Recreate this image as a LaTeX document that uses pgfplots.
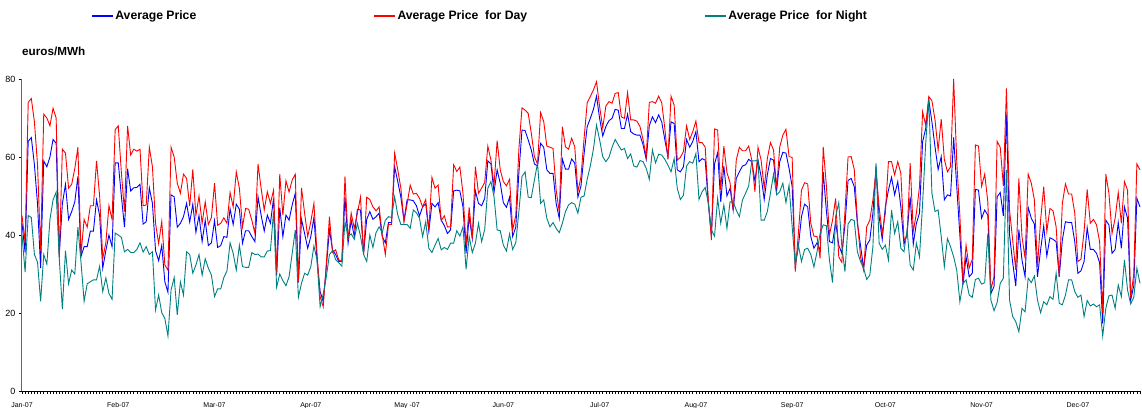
\documentclass[border=0pt]{standalone}
\usepackage{fontspec}
\setmainfont{Liberation Sans}
\usepackage{pgfplots}
\usepackage{pgfplotstable}
\pgfplotsset{compat=1.18}
\definecolor{cblue}{RGB}{0,0,255}
\definecolor{cred}{RGB}{255,0,0}
\definecolor{cteal}{RGB}{0,128,128}
\pgfplotstableread{
d r b t
0 45 43 40
1 38 35.5 30.5
2 74 64 45
3 75 65 44.5
4 69 58 35
5 58 48 33
6 36 31.5 23
7 71 59 35
8 70 57.5 32.5
9 68 60 44
10 72.5 64.5 49
11 70 63.5 51
12 34 35 34
13 62 48 21
14 61 53 36
15 52 44 27.5
16 53 46 31
17 57 48.5 30
18 62.5 55 42
19 35 34.5 33
20 44 37 23
21 42 37 27.5
22 47.5 41 28
23 47.5 41 28.5
24 59 49 28.5
25 50 45 32
26 34 31.5 25.5
27 38 36 29
28 47.5 40 25
29 44 37 23.5
30 67 58.5 40.5
31 68 58.5 40
32 56 50 39.4
33 46 42 35.7
34 68 57 36.3
35 60.5 51.3 35.5
36 62 52.1 35.5
37 61.5 52.2 36.3
38 62 53 38
39 47.5 42.8 35.6
40 47.7 43.4 37
41 62.5 52.1 35
42 57.5 48.1 35.7
43 43 36 20.8
44 37.8 33.4 24.6
45 43.5 37.3 20.1
46 32.3 28 18.6
47 31 25.3 14.1
48 62.5 50.3 25.9
49 60 49.8 29.1
50 53.3 42 19.5
51 50.7 43 28
52 55.6 44.7 24.6
53 54.5 48.1 35.7
54 47.4 43.3 35
55 56.8 47.9 30.2
56 45 40.7 32.3
57 50 45 35
58 43 38.3 29.7
59 48.5 43.8 33.9
60 42.7 37.3 31.5
61 44.5 38 29.7
62 53.3 43.7 24.2
63 42.5 36.8 26.2
64 43 37.3 26.2
65 44.4 39.6 29.1
66 43 39.4 30.8
67 50.9 46.7 38
68 47.2 42.7 35.3
69 56.2 47.9 31
70 52 46.6 37.4
71 42.1 37.9 31.9
72 46.8 41.1 31.7
73 46.6 41.1 31.7
74 43.8 39.6 35.5
75 40.4 38.3 35
76 58.2 49.8 35.1
77 52 45.1 34.4
78 46.4 41 34.4
79 51.1 45.1 35.9
80 48.1 43 36
81 51.5 49.4 46
82 30.2 29.7 26.6
83 55.6 47 30
84 45.1 39.6 28.3
85 53.9 45.1 27
86 51 43.8 29.3
87 54.1 47.7 35.3
88 55.6 50.7 41.3
89 28 27.8 24
90 52.1 44 27.6
91 45.6 40.4 30.2
92 39.6 36.6 29.7
93 43.4 39.6 31.9
94 48.1 44.5 37.2
95 35.3 33.6 33.6
96 24.2 25.5 21.6
97 21.6 22.9 24.9
98 32.7 31.9 29.3
99 44.7 41.3 35
100 35.5 36.2 36
101 36.2 35 33.7
102 33.6 33.2 32.9
103 33.2 33.2 32
104 55 49.8 43.4
105 38.7 37.9 39.6
106 45.6 43.8 40.3
107 41.7 39.6 38.9
108 45.6 46.6 43
109 49.7 46.4 39.7
110 34.9 35.3 35
111 49.7 44 33.2
112 49.1 46 40
113 47.2 44 36.8
114 46.2 44.7 40.6
115 47.2 45.6 42.1
116 40 39.6 40.6
117 35 38 43.8
118 42.7 43.2 44.7
119 42.7 43.2 44.5
120 61 57.5 49.8
121 56.7 53.7 45.1
122 52 49.7 42.7
123 43.4 43.7 42.7
124 47.9 49 42.7
125 52.8 49 41.7
126 50.5 48.8 46.4
127 50.7 47.5 45.7
128 49.4 44.9 44.3
129 47.2 47.2 39.6
130 49.1 48 43.4
131 41.3 40.9 36.6
132 54.8 48.1 35.5
133 52 47.2 37.4
134 52.8 48.3 39.1
135 43.7 43.8 36.2
136 44.9 42.4 36.8
137 42.1 40.4 36.3
138 42.1 41.3 37.9
139 58 51.3 37.9
140 56.3 51.5 41.1
141 57.4 51.3 39.7
142 50.7 47.2 42.1
143 37.4 35.3 31.2
144 47.1 44.7 39.6
145 39.1 39.1 35.5
146 57.5 51.3 37.9
147 50.7 48.1 43
148 52 47.5 38.3
149 53.5 49.4 41.4
150 62.8 59 52
151 59.2 58.2 53.7
152 52.8 51 49.8
153 64.2 56.7 41.3
154 56.7 53.3 41.1
155 53.7 48.3 37.4
156 52.6 47.1 35.9
157 54.3 49.7 40.3
158 41.3 39.6 36.3
159 45 42 38
160 62 56 46
161 72.6 66.9 55
162 72 66.8 56.2
163 71.2 64.4 49.7
164 66.1 61.8 49.6
165 60.1 58.2 54.1
166 58.2 57.7 58.4
167 71.4 63.5 48.1
168 69.1 62.5 49
169 62.8 56.7 44.3
170 62.5 55.8 42.1
171 62.2 55.8 43.2
172 51.5 48.1 41.7
173 46 44.3 40.6
174 67.8 59.5 43
175 62.6 56.9 46
176 62 56.9 47.7
177 64.8 59.5 48.3
178 62.6 58.4 47.9
179 51.1 49.7 45.6
180 55 52.6 49.7
181 64.8 60.8 50
182 73.9 67.8 54.3
183 75.5 69.9 57.7
184 77.2 72.2 62
185 79.3 75.6 68.2
186 72.9 69.9 64.4
187 67.5 65.4 60.1
188 73 67.8 58.8
189 74.2 69.3 59.9
190 73.8 69.9 62.5
191 76.3 72.2 64.5
192 76.5 72 63.1
193 70.3 67.3 61.8
194 69.9 67.3 62.2
195 76.5 71 59.6
196 69.5 66.5 60.8
197 69.5 65.9 57.7
198 69.2 65.6 57.4
199 67.8 65.6 59.1
200 64.4 63.1 58.8
201 60.1 59.4 57.1
202 74 68 54.3
203 74.2 70.3 61.8
204 73.8 68.8 58.5
205 75.6 70.8 60.7
206 73.9 69 60.5
207 67.3 64.4 59.4
208 59.4 60.1 57.9
209 75.6 69 56.2
210 73.3 68.6 59.6
211 59.2 56.7 52
212 59.9 56.2 49.1
213 61.4 57.5 50.2
214 68 64.5 57.7
215 64.5 62.5 58.8
216 66.5 64 58.4
217 69.2 66.5 60.9
218 63.7 58.8 49.1
219 63.7 59.6 51.1
220 62.5 59.2 52.2
221 49 48.1 48.1
222 38.7 40 41.3
223 67.2 58.2 39.7
224 66.9 61.1 49.4
225 51.5 48.5 43
226 62.8 57.7 47.7
227 56 50 41.7
228 53.4 52 48.5
229 46.4 46.4 48.5
230 59.2 54.5 46.4
231 62.5 56.2 44.7
232 61.6 57.7 49
233 61.6 58 50.7
234 62.8 59.4 52.6
235 59.2 58.8 59
236 51.1 53.9 59
237 62.5 59.2 59.2
238 59.2 55 43.8
239 52 49.1 43.8
240 59.6 55.4 46
241 63.7 59.6 50.7
242 61.8 59.2 55.6
243 52 51.5 50.3
244 62.6 58.8 51.1
245 65.6 61.2 53.3
246 67.1 61 48.3
247 60.1 57.1 52.8
248 59.9 52.4 42.1
249 30.6 32.3 32.3
250 40.4 37 37.4
251 51.5 44.7 33.2
252 53.4 47.9 36.3
253 53.1 47.2 36.6
254 43 39.6 35
255 39.7 36.6 31.8
256 39.6 38 35.7
257 34 36 40.4
258 62.6 56.2 42.6
259 52.8 46.4 42.4
260 40 38.3 33.6
261 43.8 38 27.8
262 49.4 43.4 44.7
263 34.4 37.4 48.3
264 33 35.3 37
265 46 42.6 30.6
266 60 54 42.8
267 60.1 54.5 44
268 56.8 52.4 43.7
269 43.8 43 35.7
270 34.4 37.4 33.2
271 31 31.5 31.5
272 42.1 37.4 28.6
273 43.8 38.7 29.7
274 49 45.6 37
275 56.2 57.5 58.4
276 47.2 44.7 37.9
277 40.4 38.9 36.3
278 45.6 47.2 37.4
279 58.8 51.5 33.6
280 58.8 54.8 46.4
281 55.4 50.3 40.4
282 58.8 53.7 43.4
283 55.8 47.2 36.6
284 38.7 37.6 35.7
285 39.6 40.4 41.3
286 58.4 49.8 32.3
287 40.9 37.6 31
288 45.6 43 37.9
289 52.4 45.6 34.4
290 71.6 63.9 48.1
291 68.2 67.3 63.5
292 75.5 74.6 74.8
293 74.4 69 50.7
294 69.5 62.6 46
295 61.8 56.8 46.4
296 69.7 60.1 39.6
297 59.4 49 31.9
298 56.2 50.3 39.1
299 57.5 50 37
300 80 65 34.4
301 58.8 52.4 31
302 45 40 22.9
303 28 27.2 27.6
304 37.4 34.4 28.5
305 31.5 29.3 24.6
306 33.8 30.2 24
307 63.1 51.7 28.6
308 62.8 51.5 28.9
309 52.5 44.3 27.4
310 55.6 46.4 27.8
311 48.5 45.1 40.4
312 26 25 23.3
313 29.3 26.8 20.6
314 64 49.8 22.7
315 62.5 50.9 27.6
316 52.6 44.9 28.9
317 77.6 70.8 56.7
318 46.4 40 23.3
319 38.7 33 19.1
320 31 26.9 17.8
321 54.5 41.4 15.2
322 39.6 33.6 21.2
323 34 29.3 20.3
324 55.6 47.1 28.9
325 53.3 44.3 27.8
326 49 42.8 29.5
327 31.9 29.3 23.3
328 43.8 36.2 20.1
329 52.4 42.3 22.9
330 40.9 34.6 22.1
331 46.8 39.3 24.2
332 46.2 38.9 23.5
333 42.1 38.3 30.2
334 29.3 29.3 22.5
335 48.1 38.7 22.1
336 53.1 43.4 24.6
337 50.5 43.2 28.5
338 50.5 43.2 28.5
339 45.6 38.3 25.5
340 33.2 30.2 24
341 33.8 30.8 24.6
342 40.9 33.2 19.1
343 51.7 41.9 23.2
344 43 36.3 21.8
345 44 36.3 22.3
346 42.6 35.3 21.6
347 38.3 32.9 22.1
348 20 17.3 14.1
349 55.6 43.8 21.2
350 50.7 42.6 24.4
351 40.4 35.3 24.6
352 44.3 36.3 21.2
353 50.9 43.2 27.2
354 43 36.6 24.2
355 53.7 47.2 33.6
356 51.5 44.3 25.9
357 23.8 23.3 22.3
358 30 27 24
359 58.2 49.4 31.5
360 56.7 47.2 27.6
}\prices
\begin{document}
\begin{tikzpicture}
\path[use as bounding box] (0,0) rectangle (1142pt,407pt);
\begin{axis}[
  at={(22pt,16pt)}, anchor=south west,
  scale only axis, width=1118pt, height=312pt,
  xmin=0, xmax=360, ymin=0, ymax=80,
  clip=false,
  axis lines=left,
  axis line style={-, line width=1pt},
  y axis line style={black!60},
  ytick={0,20,40,60,80},
  xtick={0,31,62,93,124,155,186,217,248,278,309,340},
  xticklabels={Jan-07,Feb-07,Mar-07,Apr-07,May -07,Jun-07,Jul-07,Aug-07,Sep-07,Oct-07,Nov-07,Dec-07},
  minor xtick={0,1,...,360},
  tick align=outside,
  major tick length=3pt, minor tick length=3pt,
  tick style={black, line width=0.6pt},
  /pgf/number format/assume math mode=true,
  yticklabel style={font=\fontsize{9}{10}\selectfont},
  xticklabel style={font=\fontsize{7}{8}\selectfont, yshift=-5pt},
  legend columns=3,
  legend style={draw=none, fill=none, at={(0.0617,1.2019)}, anchor=west,
    inner sep=0pt, font=\bfseries\fontsize{12.2}{14}\selectfont,
    /tikz/every even column/.append style={column sep=175pt}},
]
\addplot[cblue, line width=0.9pt, forget plot] table[x=d, y=b] {\prices};
\addplot[cred, line width=0.9pt, forget plot] table[x=d, y=r] {\prices};
\addplot[cteal, line width=0.9pt, forget plot] table[x=d, y=t] {\prices};
\addlegendimage{legend image code/.code={\draw[cblue, line width=1.2pt] (0pt,0pt) -- (21pt,0pt);}}
\addlegendentry{Average Price}
\addlegendimage{legend image code/.code={\draw[cred, line width=1.2pt] (0pt,0pt) -- (21pt,0pt);}}
\addlegendentry{Average Price\ \ for Day}
\addlegendimage{legend image code/.code={\draw[cteal, line width=1.2pt] (0pt,0pt) -- (21pt,0pt);}}
\addlegendentry{Average Price\ \ for Night}
\node[anchor=west, inner sep=0pt, font=\bfseries\fontsize{11.7}{13}\selectfont] at (axis description cs:0,1.0897) {euros/MWh};
\end{axis}
\end{tikzpicture}
\end{document}
